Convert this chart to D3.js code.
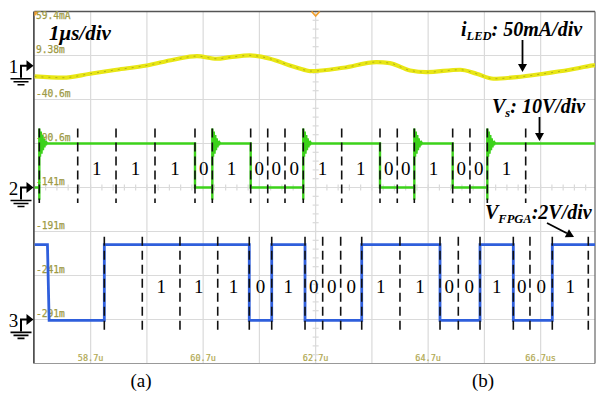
<!DOCTYPE html>
<html>
<head>
<meta charset="utf-8">
<script src="https://cdn.jsdelivr.net/npm/d3@7"></script>
<style>
  body { margin: 0; background: #fff; }
  svg { display: block; }
</style>
</head>
<body>
<svg id="scope"></svg>
<script>
const width = 596, height = 393;
const plot = { left: 34.4, right: 596.9, top: 11.5, bottom: 363.5, frameRight: 595 };

// Time axis (µs) and the labels the scope prints
const timeTicks = [58.7, 60.7, 62.7, 64.7, 66.7];
const timeTickLabels = ["58.7u", "60.7u", "62.7u", "64.7u", "66.7us"];
// Per-division level labels (channel 1 scale)
const levelLabels = ["59.4mA", "9.38m", "-40.6m", "-90.6m", "-141m", "-191m", "-241m", "-291m"];

// Transmitted bit pattern (same for both rows)
const bits = ["1", "1", "1", "0", "1", "0", "0", "0", "1", "1", "0", "0", "1", "0", "0", "1"];

// Bit boundaries (µs) – first interval is the start bit
const vsBounds = [57.787, 58.470, 59.151, 59.844, 60.555, 60.863, 61.545, 61.848, 62.155,
                  62.480, 63.163, 63.844, 64.151, 64.454, 65.136, 65.443, 65.752, 66.434];
const fpgaBounds = [58.943, 59.618, 60.288, 60.959, 61.520, 61.919, 62.511, 62.825, 63.145,
                    63.519, 64.199, 64.911, 65.236, 65.622, 66.214, 66.510, 66.907, 67.547];
const fpgaFirstDrop = 57.947;

// LED current (mA)
const iledTime = [57.70, 58.21, 58.69, 59.16, 59.70, 60.17, 60.59, 60.94, 61.18, 61.53, 61.89,
                  62.24, 62.54, 62.60, 63.19, 63.78, 64.02, 64.38, 64.67, 65.27, 65.56, 65.86,
                  66.27, 66.75, 67.22, 67.64, 67.70];
const iledValue = [-14.4, -15.8, -11.3, -6.8, -1.9, 4.6, 8.7, 5.7, 7.5, 9.5, 5.7,
                   -1.9, -7.6, -8.3, -4.5, 1.9, 0.7, -7.6, -9.5, -6.8, -11.3, -17.0,
                   -15.2, -11.3, -6.8, -1.9, -1.5];

// Levels (V)
const vsHigh = 10, vsLow = 0;
const fpgaHigh = 3.44, fpgaLow = 0;
// Ringing after each Vs rising edge (V, relative to the settled level)
const ringShape = [-2.8, 3.4, -3.0, 2.7, -2.3, 1.9, -1.5, 1.2, -0.9, 0.6, -0.4, 0.2, 0];
const ringStep = 0.013;

const svg = d3.select("#scope")
    .attr("width", width)
    .attr("height", height)
    .attr("viewBox", [0, 0, width, height]);

const xScale = d3.scaleLinear().domain([57.7, 67.7]).range([plot.left, plot.right]);
const divScale = d3.scaleLinear().domain([0, 8]).range([plot.top, plot.bottom]);

const yIled = mA => divScale((59.4 - mA) / 50);
const yVs = v => divScale(4 - v / 10);
const yFpga = v => divScale(7.02 - v / 2);

svg.append("defs").append("clipPath").attr("id", "clip")
    .append("rect")
    .attr("x", plot.left).attr("y", plot.top)
    .attr("width", plot.frameRight - plot.left).attr("height", plot.bottom - plot.top);

// Grid
const grid = svg.append("g").attr("stroke", "#dadada").attr("stroke-width", 1.2);
grid.selectAll(".vgrid")
    .data(d3.range(1, 10))
    .enter().append("line")
    .attr("x1", d => xScale(57.7 + d)).attr("x2", d => xScale(57.7 + d))
    .attr("y1", plot.top).attr("y2", plot.bottom);
grid.selectAll(".hgrid")
    .data(d3.range(1, 8))
    .enter().append("line")
    .attr("x1", plot.left).attr("x2", plot.frameRight)
    .attr("y1", d => divScale(d)).attr("y2", d => divScale(d));

// Minor ticks on centre lines
const cx = xScale(62.7), cy = divScale(4);
grid.selectAll(".ytick")
    .data(d3.range(0, 40.5).map(i => i * 0.2))
    .enter().append("line")
    .attr("x1", cx - 3).attr("x2", cx + 3)
    .attr("y1", d => divScale(d)).attr("y2", d => divScale(d));
grid.selectAll(".xtick")
    .data(d3.range(0, 50.5).map(i => 57.7 + i * 0.2))
    .enter().append("line")
    .attr("x1", d => xScale(d)).attr("x2", d => xScale(d))
    .attr("y1", cy - 3).attr("y2", cy + 3);

// Frame
svg.append("line").attr("x1", plot.left).attr("x2", plot.frameRight)
    .attr("y1", plot.top).attr("y2", plot.top).attr("stroke", "#555").attr("stroke-width", 1.5);
svg.append("line").attr("x1", plot.left).attr("x2", plot.frameRight)
    .attr("y1", plot.bottom).attr("y2", plot.bottom).attr("stroke", "#999").attr("stroke-width", 1.2);
svg.append("line").attr("x1", plot.left - 0.5).attr("x2", plot.left - 0.5)
    .attr("y1", plot.top).attr("y2", plot.bottom).attr("stroke", "#333").attr("stroke-width", 1.5);
svg.append("line").attr("x1", plot.frameRight).attr("x2", plot.frameRight)
    .attr("y1", plot.top).attr("y2", plot.bottom).attr("stroke", "#666").attr("stroke-width", 1.2);

// Orange markers
svg.append("path").attr("d", `M${plot.left},${plot.top} h5 l-5,5 z`).attr("fill", "#f0a030");
svg.append("path").attr("d", `M${cx - 4},${plot.top} L${cx},${plot.top + 4.5} L${cx + 4},${plot.top}`)
    .attr("fill", "none").attr("stroke", "#f0a030").attr("stroke-width", 1.8);

// Scope labels
const scopeFont = "'DejaVu Sans Mono', monospace";
svg.append("g").selectAll("text")
    .data(levelLabels)
    .enter().append("text")
    .attr("x", plot.left + 1.5)
    .attr("y", (d, i) => i === 0 ? divScale(0) + 7 : divScale(i) - 2.5)
    .attr("font-family", scopeFont).attr("font-size", "9.6px")
    .attr("fill", "#9e9a45").attr("stroke", "#9e9a45").attr("stroke-width", 0.25)
    .text(d => d);
svg.append("g").selectAll("text")
    .data(timeTicks)
    .enter().append("text")
    .attr("x", d => xScale(d)).attr("y", 361)
    .attr("text-anchor", "middle")
    .attr("font-family", scopeFont).attr("font-size", "8.5px")
    .attr("fill", "#b0a850").attr("stroke", "#b0a850").attr("stroke-width", 0.2)
    .text((d, i) => timeTickLabels[i]);

const line = d3.line().x(d => xScale(d.t)).y(d => d.y);
const traces = svg.append("g").attr("clip-path", "url(#clip)");

// LED current trace
const iledData = iledTime.map((t, i) => ({ t, y: yIled(iledValue[i]) }));
const iledLine = d3.line().x(d => xScale(d.t)).y(d => d.y).curve(d3.curveMonotoneX);
traces.append("path").attr("d", iledLine(iledData))
    .attr("fill", "none").attr("stroke", "#e8e614").attr("stroke-width", 4.2);
traces.append("path").attr("d", iledLine(iledData))
    .attr("fill", "none").attr("stroke", "#8e8c1c").attr("stroke-width", 1)
    .attr("stroke-dasharray", "2,5").attr("opacity", 0.6);

// Square-wave builder from bit boundaries
function intervalOn(i) { return i === 0 ? true : bits[i - 1] === "1"; }

function buildVs() {
    const pts = [{ t: 57.7, y: yVs(vsLow) }];
    let prev = false;
    for (let i = 0; i < vsBounds.length; i++) {
        const on = i < vsBounds.length - 1 ? intervalOn(i) : true;
        const t0 = vsBounds[i];
        if (on !== prev) {
            if (on) {
                pts.push({ t: t0, y: yVs(vsLow) });
                pts.push({ t: t0, y: yVs(vsLow + ringShape[0]) });
                ringShape.slice(1).forEach((r, k) => pts.push({ t: t0 + k * ringStep, y: yVs(vsHigh + r) }));
            } else {
                pts.push({ t: t0, y: yVs(vsHigh) });
                pts.push({ t: t0, y: yVs(vsLow) });
            }
            prev = on;
        }
    }
    pts.push({ t: 67.7, y: yVs(prev ? vsHigh : vsLow) });
    return pts;
}

function buildFpga() {
    const pts = [{ t: 57.7, y: yFpga(fpgaHigh) },
                 { t: fpgaFirstDrop - 0.015, y: yFpga(fpgaHigh) },
                 { t: fpgaFirstDrop + 0.015, y: yFpga(fpgaLow) }];
    let prev = false;
    for (let i = 0; i < fpgaBounds.length; i++) {
        const on = i < fpgaBounds.length - 1 ? intervalOn(i) : true;
        const t0 = fpgaBounds[i];
        if (on !== prev) {
            pts.push({ t: t0, y: yFpga(prev ? fpgaHigh : fpgaLow) });
            pts.push({ t: t0, y: yFpga(on ? fpgaHigh : fpgaLow) });
            prev = on;
        }
    }
    pts.push({ t: 67.7, y: yFpga(prev ? fpgaHigh : fpgaLow) });
    return pts;
}

traces.append("path").attr("d", line(buildVs()))
    .attr("fill", "none").attr("stroke", "#3cd21a").attr("stroke-width", 2.4);
traces.append("path").attr("d", line(buildFpga()))
    .attr("fill", "none").attr("stroke", "#2f5fdc").attr("stroke-width", 2.8);

// Dashed bit boundaries
function drawDashes(bounds, y1, y2) {
    svg.append("g").selectAll("line")
        .data(bounds)
        .enter().append("line")
        .attr("x1", d => xScale(d)).attr("x2", d => xScale(d))
        .attr("y1", y1).attr("y2", y2)
        .attr("stroke", "#111").attr("stroke-width", 1.6)
        .attr("stroke-dasharray", "9,5");
}
drawDashes(vsBounds, divScale(2.66), divScale(4.35));
drawDashes(fpgaBounds, divScale(5.12), divScale(7.3));

// Bit labels
const serif = "'Liberation Serif', 'Times New Roman', serif";
function drawBits(bounds, baseline) {
    svg.append("g").selectAll("text")
        .data(bits)
        .enter().append("text")
        .attr("x", (d, i) => (xScale(bounds[i + 1]) + xScale(bounds[i + 2])) / 2)
        .attr("y", baseline)
        .attr("text-anchor", "middle")
        .attr("font-family", serif).attr("font-size", "19px")
        .text(d => d);
}
drawBits(vsBounds, 175);
drawBits(fpgaBounds, 292.5);

// Channel ground markers
const channels = [
    { label: "1", y: yIled(0) + 2 },
    { label: "2", y: yVs(0) },
    { label: "3", y: yFpga(0) - 1 }
];
const markers = svg.append("g").selectAll("g")
    .data(channels)
    .enter().append("g")
    .attr("transform", d => `translate(0,${d.y})`);
markers.append("text").attr("x", 13.5).attr("y", 7.5)
    .attr("text-anchor", "middle").attr("font-family", serif).attr("font-size", "19px")
    .text(d => d.label);
markers.append("path").attr("d", "M21,12 V0 H27").attr("fill", "none")
    .attr("stroke", "#000").attr("stroke-width", 2);
markers.append("path").attr("d", "M26.5,-5.5 L33.5,0 L26.5,5.5 Z").attr("fill", "#000");
markers.append("path").attr("d", "M10.5,13 H31.5 M13.5,16 H28.5 M17.5,19 H24.5")
    .attr("stroke", "#000").attr("stroke-width", 1.6);

// Annotations
const ann = svg.append("g")
    .attr("font-family", serif).attr("font-weight", "bold").attr("font-style", "italic")
    .attr("font-size", "20px").attr("fill", "#000");

ann.append("text").attr("x", 49).attr("y", 40).attr("font-size", "21px").text("1μs/div");

const t1 = ann.append("text").attr("x", 461).attr("y", 36);
t1.append("tspan").text("i");
t1.append("tspan").attr("font-size", "12.5px").attr("dy", 4).text("LED");
t1.append("tspan").attr("dy", -4).text(": 50mA/div");

const t2 = ann.append("text").attr("x", 492).attr("y", 113);
t2.append("tspan").text("V");
t2.append("tspan").attr("font-size", "12.5px").attr("dy", 4).text("s");
t2.append("tspan").attr("dy", -4).text(": 10V/div");

const t3 = ann.append("text").attr("x", 485).attr("y", 219);
t3.append("tspan").text("V");
t3.append("tspan").attr("font-size", "12.5px").attr("dy", 4).text("FPGA");
t3.append("tspan").attr("dy", -4).text(":2V/div");

// Arrows
function arrow(x1, y1, x2, y2) {
    const a = Math.atan2(y2 - y1, x2 - x1), L = 8, W = 4.5;
    const bx = x2 - L * Math.cos(a), by = y2 - L * Math.sin(a);
    svg.append("line").attr("x1", x1).attr("y1", y1).attr("x2", bx).attr("y2", by)
        .attr("stroke", "#000").attr("stroke-width", 1.8);
    svg.append("path")
        .attr("d", `M${x2},${y2} L${bx - W * Math.sin(a)},${by + W * Math.cos(a)} L${bx + W * Math.sin(a)},${by - W * Math.cos(a)} Z`)
        .attr("fill", "#000");
}
arrow(522.5, 40, 522.5, 72);
arrow(539.5, 117, 539.5, 141);
arrow(547, 223, 574, 237);

// Panel captions
svg.append("text").attr("x", 141).attr("y", 387).attr("text-anchor", "middle")
    .attr("font-family", serif).attr("font-size", "19px").text("(a)");
svg.append("text").attr("x", 483).attr("y", 387).attr("text-anchor", "middle")
    .attr("font-family", serif).attr("font-size", "19px").text("(b)");
</script>
</body>
</html>
